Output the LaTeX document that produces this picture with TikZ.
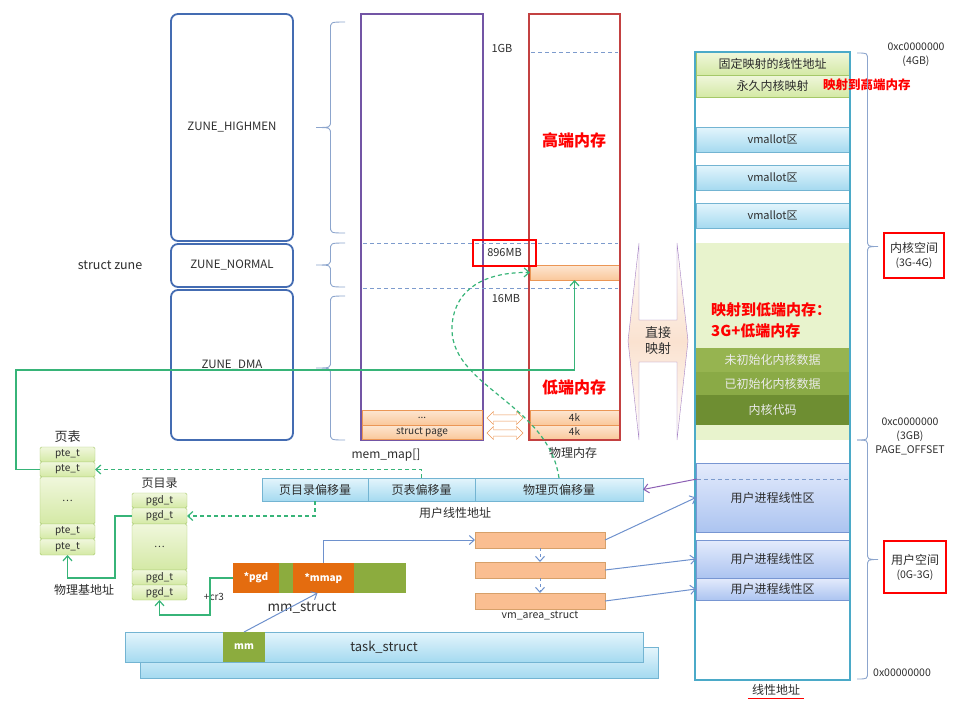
\documentclass[tikz,border=0pt]{standalone}
\usepackage{fontspec}
\setmainfont{Noto Sans CJK SC}
\usetikzlibrary{positioning,calc,shapes.arrows,arrows.meta}

% colours
\definecolor{zoneblue}{RGB}{68,108,178}
\definecolor{bracecol}{RGB}{140,165,205}
\definecolor{mapviolet}{RGB}{115,85,165}
\definecolor{physred}{RGB}{195,65,65}
\definecolor{dashblue}{RGB}{125,155,205}
\definecolor{pgfill}{RGB}{250,200,155}
\definecolor{pgdraw}{RGB}{235,150,85}
\definecolor{celltop}{RGB}{240,247,220}
\definecolor{cellbot}{RGB}{212,233,165}
\definecolor{celldraw}{RGB}{165,200,105}
\definecolor{linkgreen}{RGB}{55,180,120}
\definecolor{linkblue}{RGB}{110,145,205}
\definecolor{linkviolet}{RGB}{140,95,180}
\definecolor{bartop}{RGB}{228,245,252}
\definecolor{barbot}{RGB}{165,218,240}
\definecolor{bardraw}{RGB}{115,180,210}
\definecolor{linborder}{RGB}{75,170,200}
\definecolor{kfill}{RGB}{232,243,205}
\definecolor{kdata}{RGB}{150,180,80}
\definecolor{kdatab}{RGB}{138,170,70}
\definecolor{kcode}{RGB}{110,142,50}
\definecolor{usertop}{RGB}{228,235,252}
\definecolor{userbot}{RGB}{172,196,240}
\definecolor{userdraw}{RGB}{120,150,210}
\definecolor{vmafill}{RGB}{250,190,145}
\definecolor{vmadraw}{RGB}{215,160,105}
\definecolor{ptrorange}{RGB}{228,108,15}
\definecolor{fieldgreen}{RGB}{140,172,62}
\definecolor{peach}{RGB}{250,226,208}
\definecolor{txtgray}{RGB}{45,45,45}

\tikzset{
  wh/.style 2 args={minimum width=#1pt, minimum height=#2pt,
                    inner sep=0pt, outer sep=0pt, anchor=north west},
  lbl/.style={font=\fontsize{11}{14}\selectfont, text=txtgray, inner sep=1pt},
  cn/.style={font=\fontsize{12}{14}\selectfont, text=txtgray, inner sep=1pt},
  redtxt/.style={font=\bfseries\fontsize{#1}{21}\selectfont, text=red, inner sep=1pt},
  zone/.style={draw=zoneblue, line width=1.8pt, rounded corners=7pt,
               font=\fontsize{11.5}{13}\selectfont, text=txtgray},
  pgcell/.style={draw=pgdraw, top color=pgfill!45!white, bottom color=pgfill,
                 font=\fontsize{10}{12}\selectfont, text=txtgray},
  pcell/.style={wh={55}{#1}, draw=celldraw, top color=celltop, bottom color=cellbot,
                rounded corners=1.5pt, font=\fontsize{10}{12}\selectfont, text=txtgray},
  bar/.style={draw=bardraw, top color=bartop, bottom color=barbot,
              font=\fontsize{12}{14}\selectfont, text=txtgray},
  kcell/.style={draw=celldraw, top color=celltop, bottom color=cellbot,
                font=\fontsize{12}{14}\selectfont, text=txtgray},
  kdark/.style={fill=#1, font=\fontsize{12}{14}\selectfont, text=white!92!black},
  user/.style={draw=userdraw, top color=usertop, bottom color=userbot,
               font=\fontsize{12}{14}\selectfont, text=txtgray},
  field/.style={font=\bfseries\fontsize{10}{12}\selectfont, text=white},
  vma/.style={draw=vmadraw, fill=vmafill},
  hollowarrow/.style={double arrow, draw=pgdraw, fill=white, minimum height=36pt,
                      minimum width=13pt, inner sep=2.5pt, double arrow head extend=3pt},
  addr/.style={font=\fontsize{10.5}{14}\selectfont, text=txtgray, inner sep=1pt},
  dashline/.style={draw=dashblue, dash pattern=on 4pt off 3pt},
  glink/.style={draw=linkgreen, line width=1.2pt, ->},
  gdash/.style={glink, dash pattern=on 4pt off 3pt},
  blink/.style={draw=linkblue, line width=1pt, ->},
  plink/.style={draw=linkviolet, line width=1pt, ->},
}

% curly brace: x of hooks, x of tip, top y, bottom y
\newcommand\spanbrace[4]{%
  \pgfmathsetmacro\bracemid{(#3+#4)/2}
  \pgfmathsetmacro\bracespine{(#1+#2)/2}
  \draw[bracecol, line width=0.9pt] (#1,#3) .. controls (\bracespine,#3) .. (\bracespine,#3+7)
    -- (\bracespine,\bracemid-7) .. controls (\bracespine,\bracemid) .. (#2,\bracemid)
    .. controls (\bracespine,\bracemid) .. (\bracespine,\bracemid+7)
    -- (\bracespine,#4-7) .. controls (\bracespine,#4) .. (#1,#4);
}

\begin{document}
\begin{tikzpicture}[x=1pt, y=-1pt, >={Straight Barb[length=5pt,width=9pt]}]
  \useasboundingbox (0,0) rectangle (974,716);

  % zones
  \node[zone, wh={122}{227}] (zhigh) at (171,14) {ZUNE\_HIGHMEN};
  \node[zone, wh={122}{43}] (znormal) at (171,244) {ZUNE\_NORMAL};
  \node[zone, wh={122}{150}] (zdma) at (171,290) {ZUNE\_DMA};
  \node[lbl, font=\fontsize{12.5}{14}\selectfont] (szune) at (110,265) {struct zune};
  \spanbrace{345}{316}{22}{233}
  \spanbrace{345}{316}{243}{287}
  \spanbrace{345}{316}{296}{440}

  % mem_map and physical memory
  \node[wh={122}{426}, draw=mapviolet, line width=1.8pt] (memmap) at (361,14) {};
  \node[pgcell, wh={120}{15}] (mmdots) at (362,410) {...};
  \node[pgcell, wh={120}{14}] (mmpage) at (362,425) {struct page};
  \node[lbl, font=\fontsize{12}{14}\selectfont] (mmlabel) at (386,455) {mem\_map[]};

  \node[pgcell, wh={89}{15}] (band) at (530,265) {};
  \node[pgcell, wh={89}{15}] (k1) at (530,410) {4k};
  \node[pgcell, wh={89}{14}] (k2) at (530,425) {4k};
  \node[wh={91}{426}, draw=physred, line width=1.8pt] (phys) at (529,14) {};
  \draw[dashline] (531,52) -- (618,52);
  \draw[dashline] (363,243) -- (618,243);
  \draw[dashline] (363,288) -- (618,288);
  \node[lbl] (gb1) at (502,48) {1GB};
  \node[lbl, draw=red, line width=1.5pt, minimum width=63pt, minimum height=26pt] (mb896) at (504.5,253) {896MB};
  \node[lbl] (mb16) at (506,299) {16MB};
  \node[redtxt=16] (high) at (574,140) {高端内存};
  \node[redtxt=16] (low) at (574,387) {低端内存};
  \node[cn] (physlabel) at (573,453) {物理内存};
  \node[hollowarrow] (swap1) at (505,418) {};
  \node[hollowarrow] (swap2) at (505,433) {};

  % direct mapping
  \draw[linkviolet!80, top color=white, bottom color=white, middle color=peach]
    (639,243) -- (628,341) -- (639,440) -- (639,362) -- (677,362) -- (677,440)
    -- (688,341) -- (677,243) -- (677,320) -- (639,320) -- cycle;
  \node[cn, align=center, font=\fontsize{13}{16}\selectfont] (direct) at (658,341) {直接\\映射};

  % linear address space
  \node[kcell, wh={153}{23}] (fixmap) at (696,52) {固定映射的线性地址};
  \node[kcell, wh={153}{22}] (perm) at (696,75) {永久内核映射};
  \node[bar, wh={153}{25}, font=\fontsize{11}{13}\selectfont] (vm1) at (696,127) {vmallot区};
  \node[bar, wh={153}{25}, font=\fontsize{11}{13}\selectfont] (vm2) at (696,165) {vmallot区};
  \node[bar, wh={153}{25}, font=\fontsize{11}{13}\selectfont] (vm3) at (696,203) {vmallot区};
  \node[wh={153}{105}, fill=kfill] (lowmem) at (696,243) {};
  \node[kdark=kdata, wh={153}{24}] (uninit) at (696,348) {未初始化内核数据};
  \node[kdark=kdatab, wh={153}{23}] (initd) at (696,372) {已初始化内核数据};
  \node[kdark=kcode, wh={153}{30}] (kcode) at (696,395) {内核代码};
  \node[wh={153}{15}, fill=kfill] (lowtail) at (696,425) {};
  \node[user, wh={153}{69}] (u1) at (696,463) {用户进程线性区};
  \node[user, wh={153}{38}] (u2) at (696,540) {用户进程线性区};
  \node[user, wh={153}{22}] (u3) at (696,578) {用户进程线性区};
  \draw[dashline] (697,479) -- (848,479);
  \node[wh={155}{628}, draw=linborder, line width=1.8pt] (linear) at (695,52) {};
  \node[redtxt=12.5, anchor=west] (tohigh) at (822,85) {映射到高端内存};
  \node[redtxt=15, align=left, anchor=north west] (tolow) at (710,301) {映射到低端内存：\\3G+低端内存};
  \node[cn] (linlabel) at (776,690) {线性地址};
  \draw[red, line width=1.5pt] ($(linlabel.south west)+(-3,2)$) -- ($(linlabel.south east)+(3,2)$);

  \spanbrace{857}{878}{53}{440}
  \spanbrace{857}{878}{440}{679}
  \node[addr, align=center] (a4g) at (916,55) {0xc0000000\\(4GB)};
  \node[addr, align=center, draw=red, line width=1.5pt, minimum width=60pt, minimum height=45pt]
    (kspace) at (914,255.5) {{\fontsize{12}{16}\selectfont 内核空间}\\(3G-4G)};
  \node[addr, align=center] (a3g) at (910,436) {0xc0000000\\(3GB)\\PAGE\_OFFSET};
  \node[addr, align=center, draw=red, line width=1.5pt, minimum width=62pt, minimum height=52pt]
    (uspace) at (915,567) {{\fontsize{12}{16}\selectfont 用户空间}\\(0G-3G)};
  \node[addr] (a0) at (902,673) {0x00000000};

  % page table and page directory
  \node[pcell=15] (pte1) at (40,447) {pte\_t};
  \foreach \n/\h/\t [remember=\n as \last (initially pte1)] in
      {pte2/15/pte\_t, ptedots/47/{\dots}, pte3/15/pte\_t, pte4/16/pte\_t}
    \node[pcell=\h, below=0pt of \last] (\n) {\t};
  \node[cn, font=\fontsize{13}{15}\selectfont, above=3pt of pte1] (ptlabel) {页表};

  \node[pcell=15] (pgd1) at (132,493) {pgd\_t};
  \foreach \n/\h/\t [remember=\n as \last (initially pgd1)] in
      {pgd2/16/pgd\_t, pgddots/46/{\dots}, pgd3/15/pgd\_t, pgd4/15/pgd\_t}
    \node[pcell=\h, below=0pt of \last] (\n) {\t};
  \node[cn, above=3pt of pgd1] (pgdlabel) {页目录};
  \node[cn] (base) at (84,590) {物理基地址};
  \node[lbl, font=\fontsize{10}{12}\selectfont] (cr3) at (214,597) {+cr3};

  % user linear address
  \node[bar, wh={106}{23}] (off1) at (262,478) {页目录偏移量};
  \node[bar, wh={107}{23}, right=0pt of off1] (off2) {页表偏移量};
  \node[bar, wh={168}{23}, right=0pt of off2] (off3) {物理页偏移量};
  \node[cn] (ulabel) at (455,513) {用户线性地址};

  % mm_struct, vm_area_struct, task_struct
  \node[field, fill=ptrorange, wh={46}{30}] (fpgd) at (233,563) {*pgd};
  \node[field, fill=fieldgreen, wh={14}{30}, right=0pt of fpgd] (fgap) {};
  \node[field, fill=ptrorange, wh={61}{30}, right=0pt of fgap] (fmmap) {*mmap};
  \node[field, fill=fieldgreen, wh={52}{30}, right=0pt of fmmap] (frest) {};
  \node[lbl, font=\fontsize{13.5}{15}\selectfont] (mmlbl) at (302,608) {mm\_struct};

  \node[vma, wh={130}{16}] (vma1) at (475,532) {};
  \node[vma, wh={130}{16}] (vma2) at (475,562) {};
  \node[vma, wh={130}{16}] (vma3) at (475,593) {};
  \node[lbl, font=\fontsize{10.5}{12}\selectfont] (vmalbl) at (540,616) {vm\_area\_struct};

  \node[bar, wh={518}{31}] (taskback) at (140,647) {};
  \node[bar, wh={518}{30}, font=\fontsize{13}{15}\selectfont] (task) at (125,632) {task\_struct};
  \node[field, fill=fieldgreen, wh={42}{30}] (fmm) at (223,632) {mm};

  % green links: tables and offsets
  \draw[glink] (pte2.west) -- ++(-24,0) |- ($(band.south)+(0,90)$) -- (band.south);
  \draw[glink] (pgd2.west) -- ++(-17,0) |- ($(pte4.south)+(0,23)$) -- (pte4.south);
  \draw[glink] (fpgd.west) -- ++(-23,0) |- ($(pgd4.south)+(0,15)$) -- (pgd4.south);
  \draw[gdash] (off2.north) |- (pte2.east);
  \draw[gdash] (off1.south) |- (pgd2.east);
  \draw[gdash] (off3.north) .. controls (548,400) and (440,385) .. (453,318)
    .. controls (460,282) and (495,272) .. (band.west);

  % blue and violet links
  \coordinate (u1cut) at (697,479);
  \draw[plink] (u1cut) -- (off3.east);
  \draw[blink] (fmm.north) -- ($(fmmap.south)+(-6,0)$);
  \draw[blink] (fmmap.north) |- (vma1.west);
  \draw[blink, dashed] (vma1.south) -- (vma2.north);
  \draw[blink, dashed] (vma2.south) -- (vma3.north);
  \draw[blink] (vma1.east) -- (u1.west);
  \draw[blink] (vma2.east) -- (u2.west);
  \draw[blink] (vma3.east) -- (u3.west);
\end{tikzpicture}
\end{document}
